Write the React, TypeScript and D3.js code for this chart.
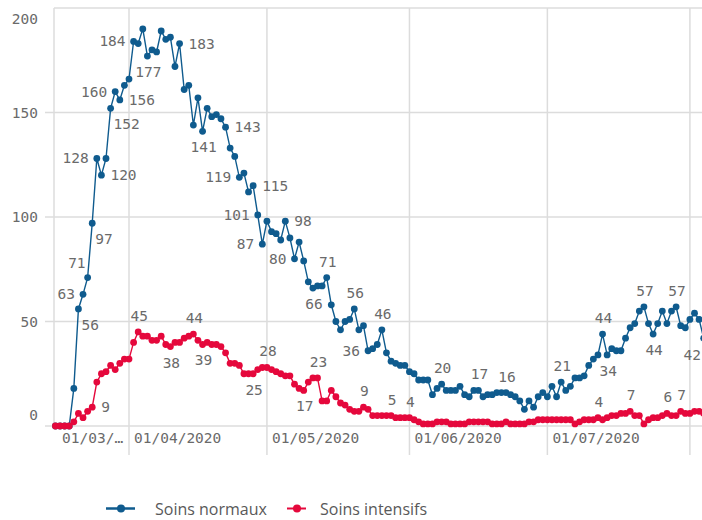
import React from "react";
import * as d3 from "d3";

// daily values starting 16/03/2020
const startDate = "2020-03-16";

const soinsNormaux = [
  0, 0, 0, 0, 18, 56, 63, 71, 97, 128, 120, 128, 152, 160, 156, 163, 166,
  184, 183, 190, 177, 180, 179, 189, 185, 186, 172, 183, 161, 163,
  144, 157, 141, 152, 148, 149, 147, 143, 133, 129, 119, 121, 112, 115, 101, 87,
  98, 93, 92, 89, 98, 90, 80, 88, 79, 69, 66, 67, 67, 71,
  58, 50, 46, 50, 51, 56, 46, 48, 36, 37, 39, 46, 35,
  31, 30, 29, 29, 26, 25, 22, 22, 22, 15, 18, 20, 17, 17, 17,
  19, 15, 14, 17, 17, 14, 15, 15, 16, 16, 16, 15, 14, 12, 8, 12, 9,
  14, 16, 14, 19, 14, 21, 17, 19, 23, 23, 24, 29, 32, 34,
  44, 34, 37, 36, 36, 42, 47, 49, 55, 57, 49, 44, 49, 55, 49, 55, 57, 48, 47, 51, 54, 51, 42,
];

const soinsIntensifs = [
  0, 0, 0, 0, 2, 6, 4, 7, 9,
  21, 25, 26, 29, 27, 30, 32, 32,
  40, 45, 43, 43, 41, 41, 43, 39, 38, 40, 40, 42, 43,
  44, 41, 39, 40, 39, 39, 38, 35, 30, 30, 29, 25, 25, 25,
  27, 28, 28, 27, 26, 25, 24, 24, 20, 18, 17, 21, 23, 23,
  12, 12, 17, 14, 11, 10, 8, 7, 7, 9, 8, 5, 5, 5, 5, 5, 4,
  4, 4, 4, 3, 2, 1, 1, 1, 2, 2, 2, 1, 1, 1, 1, 2, 2, 2, 2, 2, 1, 1, 1, 2, 1, 1, 1, 1, 2, 2,
  3, 3, 3, 3, 3, 3, 3, 3, 1, 2, 3, 3, 3,
  4, 3, 4, 5, 5, 6, 6, 7, 5, 5, 1, 3, 4, 4, 5, 6, 5, 5, 7, 6, 6, 7, 7, 6,
];

// [day index, placement]
const labelsNormaux: [number, string][] = [
  [5, "br"], [6, "l"], [7, "al"], [8, "br"], [9, "l"], [10, "r"], [12, "br"], [13, "l"], [14, "r"],
  [17, "l"], [20, "b"], [27, "r"], [32, "b"], [37, "r"], [40, "l"], [43, "r"], [44, "l"], [45, "l"],
  [50, "r"], [52, "l"], [56, "b"], [59, "a"], [65, "a"], [68, "l"], [71, "a"], [84, "a"], [92, "a"],
  [98, "a"], [110, "a"], [119, "a"], [120, "b"], [128, "a"], [130, "b"], [135, "a"], [141, "bl"],
];
const labelsIntensifs: [number, string][] = [
  [8, "r"], [18, "a"], [25, "b"], [30, "a"], [32, "b"], [43, "b"], [46, "a"], [54, "b"], [57, "a"],
  [67, "a"], [73, "a"], [77, "a"], [118, "a"], [125, "a"], [133, "a"], [136, "a"],
];

const yTicks = [0, 50, 100, 150, 200];
const monthTicks = ["2020-04-01", "2020-05-01", "2020-06-01", "2020-07-01", "2020-08-01"];
const monthLabels = ["01/04/2020", "01/05/2020", "01/06/2020", "01/07/2020", ""];
const firstLabel = "01/03/…";

const BLUE = "#0f5b8e";
const RED = "#e5083c";
const GRID = "#dcdcdc";
const TXT = "#6a6a6a";
const MONO = "'DejaVu Sans Mono', monospace";

const W = 702, H = 520;
const left = 54, top = 8, bottom = 426;

export default function App() {
  const day0 = new Date(startDate + "T00:00:00Z").getTime();
  const dates = soinsNormaux.map((_, i) => new Date(day0 + i * 86400000));

  const x = d3.scaleUtc()
    .domain([new Date("2020-04-01T00:00:00Z"), new Date("2020-08-01T00:00:00Z")])
    .range([129, 689.9]);
  const y = d3.scaleLinear().domain([0, 200]).range([bottom, top]);

  const line = d3.line<number>()
    .x((_, i) => x(dates[i]))
    .y((d) => y(d));

  const placeLabel = (px: number, py: number, p: string) => {
    switch (p) {
      case "l": return { x: px - 8, y: py, anchor: "end" };
      case "r": return { x: px + 9, y: py, anchor: "start" };
      case "a": return { x: px + 1, y: py - 16, anchor: "middle" };
      case "b": return { x: px + 1, y: py + 16, anchor: "middle" };
      case "al": return { x: px - 2, y: py - 15, anchor: "end" };
      case "br": return { x: px + 3, y: py + 16, anchor: "start" };
      default: return { x: Math.min(px - 1, W - 1), y: py + 17, anchor: "end" };
    }
  };

  const renderSeries = (values: number[], color: string) => (
    <g>
      <path d={line(values) ?? ""} fill="none" stroke={color} strokeWidth={1.4} />
      {values.map((v, i) => (
        <circle key={i} cx={x(dates[i])} cy={y(v)} r={3.4} fill={color} />
      ))}
    </g>
  );

  const renderLabels = (values: number[], labels: [number, string][], key: string) =>
    labels.map(([i, p]) => {
      const l = placeLabel(x(dates[i]), y(values[i]), p);
      return (
        <text key={key + i} x={l.x} y={l.y} textAnchor={l.anchor} dominantBaseline="central"
          fontFamily={MONO} fontSize={14.5} fill={TXT}>
          {values[i]}
        </text>
      );
    });

  return (
    <svg width={W} height={H} style={{ position: "absolute", left: 0, top: 0, background: "#fff" }}>
      {/* horizontal grid */}
      {yTicks.map((t) => (
        <line key={t} x1={t === 200 ? left : 45} x2={W} y1={y(t)} y2={y(t)} stroke={GRID} strokeWidth={1.5} />
      ))}
      {/* month grid */}
      {monthTicks.map((m) => {
        const mx = x(new Date(m + "T00:00:00Z"));
        return <line key={m} x1={mx} x2={mx} y1={top} y2={455} stroke={GRID} strokeWidth={1.5} />;
      })}
      <line x1={left} x2={left} y1={top} y2={bottom} stroke={GRID} strokeWidth={1.5} />

      {yTicks.map((t) => (
        <text key={t} x={38} y={Math.min(Math.max(y(t), 19), 415)} textAnchor="end" dominantBaseline="central"
          fontFamily={MONO} fontSize={14.5} fill={TXT}>
          {t}
        </text>
      ))}
      <text x={left + 8} y={438} dominantBaseline="central" fontFamily={MONO} fontSize={14.5} fill={TXT}>
        {firstLabel}
      </text>
      {monthTicks.map((m, k) => (
        <text key={m} x={x(new Date(m + "T00:00:00Z")) + 5} y={438} dominantBaseline="central"
          fontFamily={MONO} fontSize={14.5} fill={TXT}>
          {monthLabels[k]}
        </text>
      ))}

      {renderSeries(soinsNormaux, BLUE)}
      {renderSeries(soinsIntensifs, RED)}
      {renderLabels(soinsNormaux, labelsNormaux, "n")}
      {renderLabels(soinsIntensifs, labelsIntensifs, "i")}

      {/* legend */}
      <g>
        <line x1={106} x2={135} y1={508.5} y2={508.5} stroke={BLUE} strokeWidth={2.5} />
        <circle cx={121} cy={508.5} r={4} fill={BLUE} />
        <text x={155} y={509} dominantBaseline="central" fontFamily="'Open Sans', sans-serif" fontSize={16} fill="#595959">
          Soins normaux
        </text>
        <line x1={287} x2={306} y1={508.5} y2={508.5} stroke={RED} strokeWidth={2} />
        <circle cx={297} cy={508.5} r={4} fill={RED} />
        <text x={320} y={509} dominantBaseline="central" fontFamily="'Open Sans', sans-serif" fontSize={16} fill="#595959">
          Soins intensifs
        </text>
      </g>
    </svg>
  );
}
